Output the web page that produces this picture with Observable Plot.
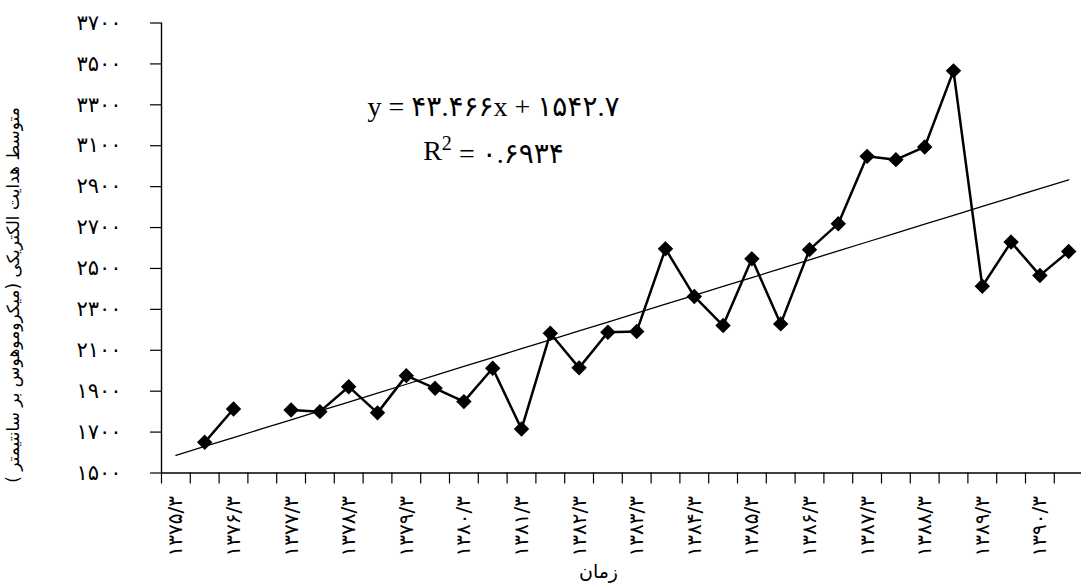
<!DOCTYPE html>
<html>
<head>
<meta charset="utf-8">
<script src="https://cdn.jsdelivr.net/npm/d3@7"></script>
<script src="https://cdn.jsdelivr.net/npm/@observablehq/plot@0.6"></script>
<style>
  html, body { margin: 0; padding: 0; background: #fff; }
  #chart svg { display: block; }
</style>
</head>
<body>
<div id="chart"></div>
<script>
// Half-yearly readings, 1375/3 to 1390/9 (null = no measurement)
const values = [
  null, 1650, 1813, null, 1808, 1800, 1922, 1794, 1976, 1914,
  1849, 2012, 1715, 2183, 2014, 2188, 2192, 2596, 2363, 2221,
  2547, 2229, 2592, 2719, 3048, 3032, 3094, 3466, 2413, 2629,
  2466, 2583
];

// Labels shown on every second period
const periodLabels = [
  "۱۳۷۵/۳", "۱۳۷۶/۳", "۱۳۷۷/۳", "۱۳۷۸/۳", "۱۳۷۹/۳", "۱۳۸۰/۳", "۱۳۸۱/۳", "۱۳۸۲/۳",
  "۱۳۸۳/۳", "۱۳۸۴/۳", "۱۳۸۵/۳", "۱۳۸۶/۳", "۱۳۸۷/۳", "۱۳۸۸/۳", "۱۳۸۹/۳", "۱۳۹۰/۳"
];

const yTicks = [1500, 1700, 1900, 2100, 2300, 2500, 2700, 2900, 3100, 3300, 3500, 3700];

// Linear trend fitted over the period index (1-based)
const slope = 43.466;
const intercept = 1542.7;
const rSquared = 0.6934;

const faDigits = "۰۱۲۳۴۵۶۷۸۹";
const toFa = v => String(v).replace(/\d/g, d => faDigits[d]);

const data = values.map((v, i) => ({i, v}));
const boundaries = d3.range(values.length + 1).map(k => k - 0.5);
const labelPositions = periodLabels.map((_, j) => j * 2);

const eqLine = `y = ${toFa(slope)}x + ${toFa(intercept)}`;
const r2Value = ` = ${toFa(rSquared)}`;

const persian = "DejaVu Sans, sans-serif";
const serif = "Liberation Serif, DejaVu Sans, serif";

const chart = Plot.plot({
  width: 1081,
  height: 586,
  marginLeft: 161,
  marginRight: 0,
  marginTop: 22.5,
  marginBottom: 113.5,
  style: {fontFamily: persian, color: "black", background: "white"},
  x: {type: "linear", label: null, domain: [-0.5, values.length - 0.5], range: [161, 161 + values.length * 28.8]},
  y: {label: null, domain: [1500, 3700]},
  marks: [
    // axis lines
    Plot.ruleX([-0.5], {y1: 1500, y2: 3700, stroke: "black", strokeWidth: 1.4}),
    Plot.ruleY([1500], {stroke: "black", strokeWidth: 1.4}),
    // y axis ticks and labels
    Plot.axisY(yTicks, {label: null, tickSize: 11, tickPadding: 29, tickFormat: toFa, fontSize: 21,
      strokeWidth: 1.2, className: "yticks"}),
    // x tick marks between periods
    Plot.axisX(boundaries, {label: null, tickSize: 11, tickFormat: () => "", strokeWidth: 1.2}),
    // rotated period labels
    Plot.axisX(labelPositions, {
      label: null, tickSize: 0, tickPadding: 23, tickRotate: -90, fontSize: 20, className: "xlabels",
      tickFormat: i => periodLabels[i / 2]
    }),
    // trend line
    Plot.line(data, {x: "i", y: d => intercept + slope * (d.i + 1), stroke: "black", strokeWidth: 1.3}),
    // observed series
    Plot.line(data, {x: "i", y: "v", stroke: "black", strokeWidth: 2.5}),
    Plot.dot(data, {x: "i", y: "v", symbol: "diamond2", r: 6, fill: "black", stroke: "black"}),
    // regression annotation
    Plot.text([eqLine], {frameAnchor: "top-left", dx: 332, dy: 92.5, textAnchor: "middle",
      lineAnchor: "bottom", fontFamily: serif, fontSize: 28}),
    Plot.text([r2Value], {frameAnchor: "top-left", dx: 332, dy: 136.5, textAnchor: "middle",
      lineAnchor: "bottom", fontFamily: serif, fontSize: 28, className: "r2"}),
    // axis titles
    Plot.text(["زمان"], {frameAnchor: "bottom", dx: -23, dy: 105, fontSize: 19}),
    Plot.text(["متوسط هدایت الکتریکی (میکروموهوس بر سانتیمتر )"], {
      frameAnchor: "left", textAnchor: "middle", rotate: -90, dx: -148, dy: 47, fontSize: 17
    })
  ]
});

const svg = d3.select(chart);
svg.selectAll(".yticks text").attr("letter-spacing", "2px");
svg.selectAll(".xlabels text").attr("letter-spacing", "0.6px");

// R with a superscript 2 in front of the coefficient of determination
svg.selectAll(".r2 text").each(function () {
  const t = d3.select(this);
  const rest = t.text();
  t.text(null);
  t.append("tspan").text("R");
  t.append("tspan").attr("dy", "-0.45em").attr("font-size", "0.72em").text("2");
  t.append("tspan").attr("dy", "0.45em").text(rest);
});

document.getElementById("chart").appendChild(chart);
</script>
</body>
</html>
